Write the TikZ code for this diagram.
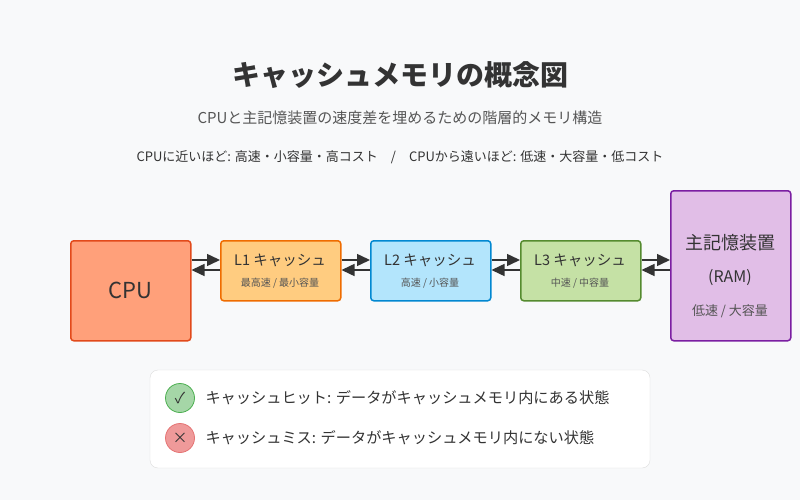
\documentclass[tikz,border=0pt]{standalone}
\usepackage{fontspec}
\setmainfont{Noto Sans CJK JP}
\usetikzlibrary{arrows.meta}
\definecolor{bg}{HTML}{F8F9FA}
\definecolor{tx}{HTML}{333333}
\definecolor{sub}{HTML}{555555}
\definecolor{cf}{HTML}{FFA07A}\definecolor{cd}{HTML}{E24A1B}
\definecolor{af}{HTML}{FFCC80}\definecolor{ad}{HTML}{EF6C00}
\definecolor{bf}{HTML}{B3E5FC}\definecolor{bd}{HTML}{0288D1}
\definecolor{gf}{HTML}{C5E1A5}\definecolor{gd}{HTML}{558B2F}
\definecolor{pf}{HTML}{E1BEE7}\definecolor{pd}{HTML}{7B1FA2}
\definecolor{okf}{HTML}{A5D6A7}\definecolor{okd}{HTML}{4CAF50}
\definecolor{ngf}{HTML}{EF9A9A}\definecolor{ngd}{HTML}{E57373}
\definecolor{cardd}{HTML}{DDDDDD}
\begin{document}
\begin{tikzpicture}[x=1pt,y=-1pt,
 box/.style={draw,line width=1.5pt,rounded corners=3pt,inner sep=0pt,anchor=north west,text=tx,align=center},
 ar/.style={line width=1.5pt,draw=tx,-{Triangle[length=13pt,width=12pt]}},
 lbl/.style={text=tx,font=\fontsize{14.5}{16}\selectfont},
 small/.style={text=sub,font=\fontsize{10}{12}\selectfont}]
\fill[bg] (0,0) rectangle (800,500);
\useasboundingbox (0,0) rectangle (800,500);
\node[text=tx,font=\bfseries\fontsize{28}{32}\selectfont] (title) at (400,75) {キャッシュメモリの概念図};
\node[text=sub,font=\fontsize{15}{17}\selectfont] (st) at (400,118) {CPUと主記憶装置の速度差を埋めるための階層的メモリ構造};
\node[text=tx,font=\fontsize{13}{15}\selectfont] (st2) at (400,157) {CPUに近いほど: 高速・小容量・高コスト\quad /\quad CPUから遠いほど: 低速・大容量・低コスト};
\node[box,fill=cf,draw=cd,minimum width=120pt,minimum height=100pt,font=\fontsize{22}{24}\selectfont] (cpu) at (70,240) {CPU};
\node[box,fill=af,draw=ad,minimum width=120pt,minimum height=60pt] (l1) at (220,240) {};
\node[box,fill=bf,draw=bd,minimum width=120pt,minimum height=60pt] (l2) at (370,240) {};
\node[box,fill=gf,draw=gd,minimum width=120pt,minimum height=60pt] (l3) at (520,240) {};
\node[box,fill=pf,draw=pd,minimum width=120pt,minimum height=150pt] (ram) at (670,190) {};
\node[lbl] (l1a) at (280,260) {L1 キャッシュ};
\node[small] (l1b) at (280,283) {最高速 / 最小容量};
\node[lbl] (l2a) at (430,260) {L2 キャッシュ};
\node[small] (l2b) at (430,283) {高速 / 小容量};
\node[lbl] (l3a) at (580,260) {L3 キャッシュ};
\node[small] (l3b) at (580,283) {中速 / 中容量};
\node[text=tx,font=\fontsize{18}{20}\selectfont] (ra) at (730,243) {主記憶装置};
\node[text=tx,font=\fontsize{16}{18}\selectfont] (rb) at (730,278) {(RAM)};
\node[text=sub,font=\fontsize{13}{15}\selectfont] (rc) at (730,311) {低速 / 大容量};
\foreach \a/\b in {cpu/l1,l1/l2,l2/l3,l3/ram}{
 \draw[ar] (\a.east |- 0,260) -- (\b.west |- 0,260);
 \draw[ar] (\b.west |- 0,270) -- (\a.east |- 0,270);
}
\draw[draw=cardd,fill=white,rounded corners=8pt] (150,370) rectangle (650,468);
\node[circle,draw=okd,fill=okf,line width=0.8pt,minimum size=29pt,inner sep=0pt,text=tx,font=\fontsize{15}{15}\selectfont] (ok) at (180,398) {✓};
\node[circle,draw=ngd,fill=ngf,line width=0.8pt,minimum size=29pt,inner sep=0pt,text=tx,font=\fontsize{15}{15}\selectfont] (ng) at (180,438) {×};
\node[anchor=west,text=tx,font=\fontsize{15.2}{17}\selectfont] (t1) at (202,398) {キャッシュヒット: データがキャッシュメモリ内にある状態};
\node[anchor=west,text=tx,font=\fontsize{15.2}{17}\selectfont] (t2) at (202,438) {キャッシュミス: データがキャッシュメモリ内にない状態};
\end{tikzpicture}
\end{document}
